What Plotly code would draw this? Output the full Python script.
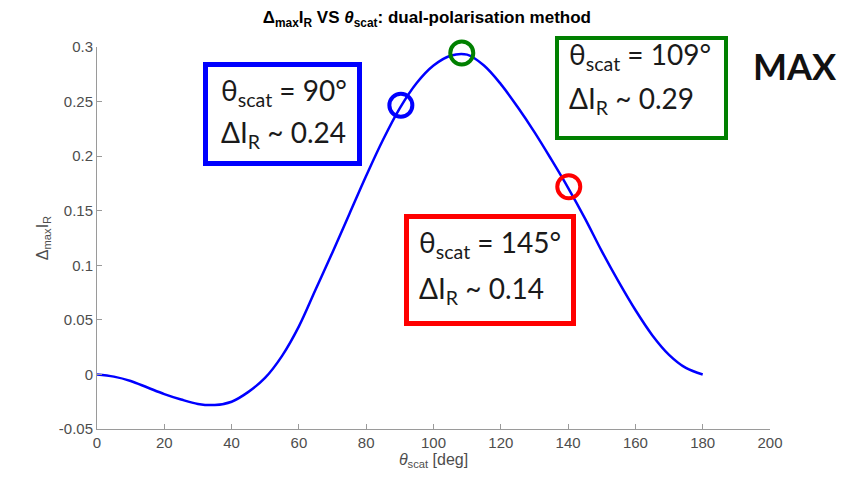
import plotly.graph_objects as go

# ---- data ----
theta_deg = [0, 5, 10, 15, 20, 25, 30, 35, 40, 45, 50, 55, 60, 65, 70, 75, 80, 85, 90,
             95, 100, 105, 110, 115, 120, 125, 130, 135, 140, 145, 150, 155, 160, 165,
             170, 175, 180]
delta_ir = [0.0, -0.002, -0.006, -0.012, -0.018, -0.023, -0.027, -0.028, -0.025, -0.016,
            -0.003, 0.017, 0.044, 0.078, 0.112, 0.147, 0.182, 0.215, 0.244,
            0.267, 0.283, 0.292, 0.293, 0.283, 0.266, 0.245, 0.222, 0.197, 0.171,
            0.143, 0.113, 0.085, 0.059, 0.036, 0.018, 0.006, 0.0]

marker_theta = [90.3, 108.4, 140.2]
marker_val = [0.2466, 0.2945, 0.172]
marker_colors = ["#0000FF", "#008000", "#FF0000"]

box_line1 = ["θ<sub>scat</sub> = 90°", "θ<sub>scat</sub> = 109°", "θ<sub>scat</sub> = 145°"]
box_line2 = ["ΔI<sub>R</sub> ~ 0.24", "ΔI<sub>R</sub> ~ 0.29", "ΔI<sub>R</sub> ~ 0.14"]

x_ticks = [0, 20, 40, 60, 80, 100, 120, 140, 160, 180, 200]
y_ticks = [-0.05, 0, 0.05, 0.1, 0.15, 0.2, 0.25, 0.3]
y_ticklabels = ["-0.05", "0", "0.05", "0.1", "0.15", "0.2", "0.25", "0.3"]

# ---- layout geometry (pixels) ----
W, H = 850, 482
L, R, T, B = 97, 80, 47, 53
PW, PH = W - L - R, H - T - B


def px(x):
    return (x - L) / PW


def py(y):
    return (H - B - y) / PH


fig = go.Figure()
fig.add_trace(go.Scatter(x=theta_deg, y=delta_ir, mode="lines",
                         line=dict(color="#0000FF", width=2.5, shape="spline", smoothing=1.0),
                         showlegend=False, hoverinfo="skip", cliponaxis=False))
fig.add_trace(go.Scatter(x=marker_theta, y=marker_val, mode="markers",
                         marker=dict(symbol="circle-open", size=23, color=marker_colors,
                                     line=dict(width=4, color=marker_colors)),
                         showlegend=False, hoverinfo="skip", cliponaxis=False))

# boxes (outer pixel extents, border width)
boxes = [
    (203, 62, 362, 166, 5, "#0000FF"),
    (555, 36, 728, 140, 4, "#008000"),
    (404, 214, 576, 326, 5, "#FF0000"),
]
text_pos = [  # left x, line1 center y, line2 center y
    (219, 92, 134),
    (567, 56, 100),
    (417, 244, 290),
]
shapes = []
annotations = []
for (x0, y0, x1, y1, lw, col), (tx, ty1, ty2), l1, l2 in zip(boxes, text_pos, box_line1, box_line2):
    h = lw / 2
    shapes.append(dict(type="rect", xref="paper", yref="paper",
                       x0=px(x0 + h), x1=px(x1 - h), y0=py(y1 - h), y1=py(y0 + h),
                       line=dict(color=col, width=lw), fillcolor="white", layer="above"))
    for txt, ty in ((l1, ty1), (l2, ty2)):
        annotations.append(dict(xref="paper", yref="paper", x=px(tx), y=py(ty),
                                xanchor="left", yanchor="middle", showarrow=False,
                                text=txt, font=dict(family="Lato", size=28, color="#1a1a1a")))

annotations.append(dict(xref="paper", yref="paper", x=px(795), y=py(66),
                        xanchor="center", yanchor="middle", showarrow=False,
                        text="<b>MAX</b>", font=dict(family="Lato", size=36, color="#111111")))

fig.update_layout(
    width=W, height=H,
    margin=dict(l=L, r=R, t=T, b=B),
    paper_bgcolor="white", plot_bgcolor="white",
    title=dict(text="<b>Δ<sub>max</sub>I<sub>R</sub> VS <i>θ</i><sub>scat</sub>: dual-polarisation method</b>",
               x=px(435), xanchor="center", y=1 - 17 / H, yanchor="middle",
               font=dict(family="Liberation Sans", size=17, color="#000000")),
    shapes=shapes,
    annotations=annotations,
    font=dict(family="Liberation Sans", size=15, color="#4d4d4d"),
)
fig.update_xaxes(range=[0, 200], tickvals=x_ticks, ticks="inside", ticklen=5,
                 tickcolor="#9a9a9a", showline=True, linecolor="#9a9a9a", linewidth=1,
                 showgrid=False, zeroline=False, mirror=False,
                 tickfont=dict(family="Liberation Sans", size=15, color="#4d4d4d"),
                 title=dict(text="<i>θ</i><sub>scat</sub> [deg]", standoff=3,
                            font=dict(family="Liberation Sans", size=16, color="#4d4d4d")))
fig.update_yaxes(range=[-0.05, 0.3], tickvals=y_ticks, ticktext=y_ticklabels,
                 ticks="inside", ticklen=5,
                 tickcolor="#9a9a9a", showline=True, linecolor="#9a9a9a", linewidth=1,
                 showgrid=False, zeroline=False, mirror=False,
                 tickfont=dict(family="Liberation Sans", size=15, color="#4d4d4d"),
                 title=dict(text="Δ<sub>max</sub>I<sub>R</sub>", standoff=6,
                            font=dict(family="Liberation Sans", size=16, color="#4d4d4d")))

fig.write_html("out.html")
